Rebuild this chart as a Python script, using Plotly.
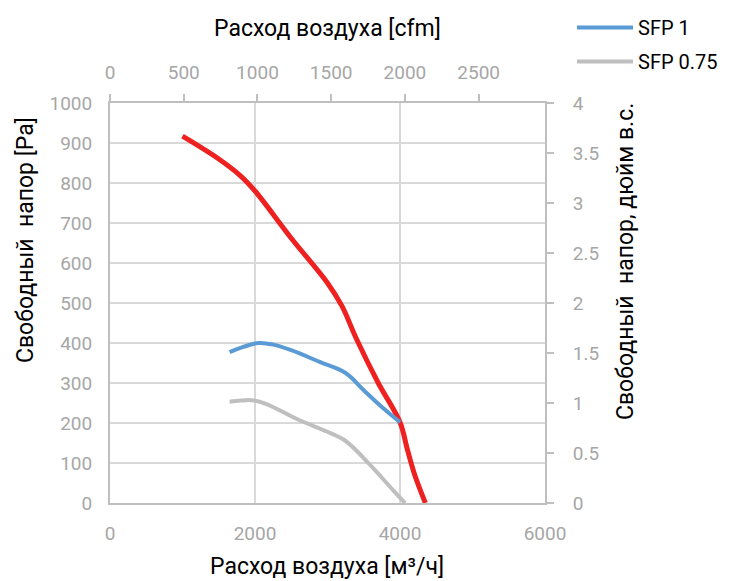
import plotly.graph_objects as go

# Data
red_x = [1000, 1500, 1800, 2000, 2500, 3000, 3200, 3400, 3700, 4000, 4100, 4200, 4350]
red_y = [917, 860, 818, 780, 662, 550, 492, 410, 300, 202, 135, 72, 0]

sfp1_x = [1650, 1800, 2050, 2250, 2500, 2900, 3250, 3500, 3750, 4000]
sfp1_y = [377, 388, 400, 396, 382, 352, 325, 282, 240, 202]

sfp075_x = [1650, 1800, 1950, 2150, 2600, 3000, 3250, 3600, 3900, 4070]
sfp075_y = [253, 256, 257, 248, 208, 178, 155, 93, 33, 0]

x_ticks = [0, 2000, 4000, 6000]
cfm_ticks = [0, 500, 1000, 1500, 2000, 2500]
pa_ticks = [0, 100, 200, 300, 400, 500, 600, 700, 800, 900, 1000]
inch_ticks = [0, 0.5, 1, 1.5, 2, 2.5, 3, 3.5, 4]
inch_labels = ["0", "0.5", "1", "1.5", "2", "2.5", "3", "3.5", "4"]

FONT = "Roboto"
TICK_COLOR = "#a6a6a6"
LINE_COLOR = "#bfbfbf"
GRID_COLOR = "#d9d9d9"
TICK_SIZE = 19
TITLE_SIZE = 23
LEGEND_SIZE = 20

W, H = 729, 581
OFF = 8  # page body margin
# desired plot box in screenshot pixels: x 110..545, y 103..503
L = 110 - OFF
T = 103 - OFF
R = W - (545 - OFF)
B = H - (503 - OFF)
PW, PH = W - L - R, H - T - B


def px_x(px):
    return (px - OFF - L) / PW


def px_y(py):
    return (H - B - (py - OFF)) / PH


fig = go.Figure()
fig.add_trace(go.Scatter(x=red_x, y=red_y, mode="lines", line=dict(color="#ee2020", width=5, shape="spline"),
                         showlegend=False, hoverinfo="skip"))
fig.add_trace(go.Scatter(x=sfp1_x, y=sfp1_y, mode="lines", name="SFP 1", legendgroup="a",
                         line=dict(color="#5b9bd5", width=4, shape="spline")))
fig.add_trace(go.Scatter(x=sfp075_x, y=sfp075_y, mode="lines", name="SFP 0.75", legendgroup="b",
                         line=dict(color="#bfbfbf", width=4, shape="spline")))
# empty trace to anchor secondary axes
fig.add_trace(go.Scatter(x=[None], y=[None], xaxis="x2", yaxis="y2", showlegend=False, hoverinfo="skip"))

axis_common = dict(showline=True, linecolor=LINE_COLOR, linewidth=2, zeroline=False, automargin=False,
                   tickfont=dict(color=TICK_COLOR, size=TICK_SIZE, family=FONT))

fig.update_layout(
    width=W, height=H,
    margin=dict(l=L, r=R, t=T, b=B, autoexpand=False),
    paper_bgcolor="white", plot_bgcolor="white",
    font=dict(family=FONT, size=TICK_SIZE, color="black"),
    xaxis=dict(range=[0, 6000], tickvals=x_ticks, showgrid=True, gridcolor=GRID_COLOR, gridwidth=1.5,
               ticks="", ticklabelstandoff=12, **axis_common),
    yaxis=dict(range=[0, 1000], tickvals=pa_ticks, showgrid=True, gridcolor=GRID_COLOR, gridwidth=1.5,
               ticks="", ticklabelstandoff=12, **axis_common),
    xaxis2=dict(overlaying="x", side="top", range=[0, 2950], tickvals=cfm_ticks, showgrid=False,
                ticks="outside", ticklen=7, tickcolor=LINE_COLOR, tickwidth=1.5, ticklabelstandoff=7,
                **axis_common),
    yaxis2=dict(overlaying="y", side="right", range=[0, 4], tickvals=inch_ticks, ticktext=inch_labels,
                showgrid=False, ticks="outside", ticklen=7, tickcolor=LINE_COLOR, tickwidth=1.5,
                ticklabelstandoff=15, **axis_common),
    legend=dict(x=(572 - OFF) / W, y=1.0, xref="container", yref="container", xanchor="left",
                yanchor="top", font=dict(size=LEGEND_SIZE, color="black", family=FONT),
                bgcolor="rgba(0,0,0,0)", tracegroupgap=5, itemwidth=56),
)

fig.add_annotation(text="Расход воздуха [cfm]", xref="paper", yref="paper", x=px_x(327), y=px_y(28),
                   showarrow=False, font=dict(size=TITLE_SIZE, color="black"), xanchor="center", yanchor="middle")
fig.add_annotation(text="Расход воздуха [м³/ч]", xref="paper", yref="paper", x=px_x(327), y=px_y(566),
                   showarrow=False, font=dict(size=TITLE_SIZE, color="black"), xanchor="center", yanchor="middle")
fig.add_annotation(text="Свободный  напор [Pa]", xref="paper", yref="paper", x=px_x(25), y=px_y(240),
                   textangle=-90, showarrow=False, font=dict(size=TITLE_SIZE, color="black"),
                   xanchor="center", yanchor="middle")
fig.add_annotation(text="Свободный  напор, дюйм в.с.", xref="paper", yref="paper", x=px_x(625), y=px_y(262),
                   textangle=-90, showarrow=False, font=dict(size=TITLE_SIZE, color="black"),
                   xanchor="center", yanchor="middle")

fig.write_html("out.html")
